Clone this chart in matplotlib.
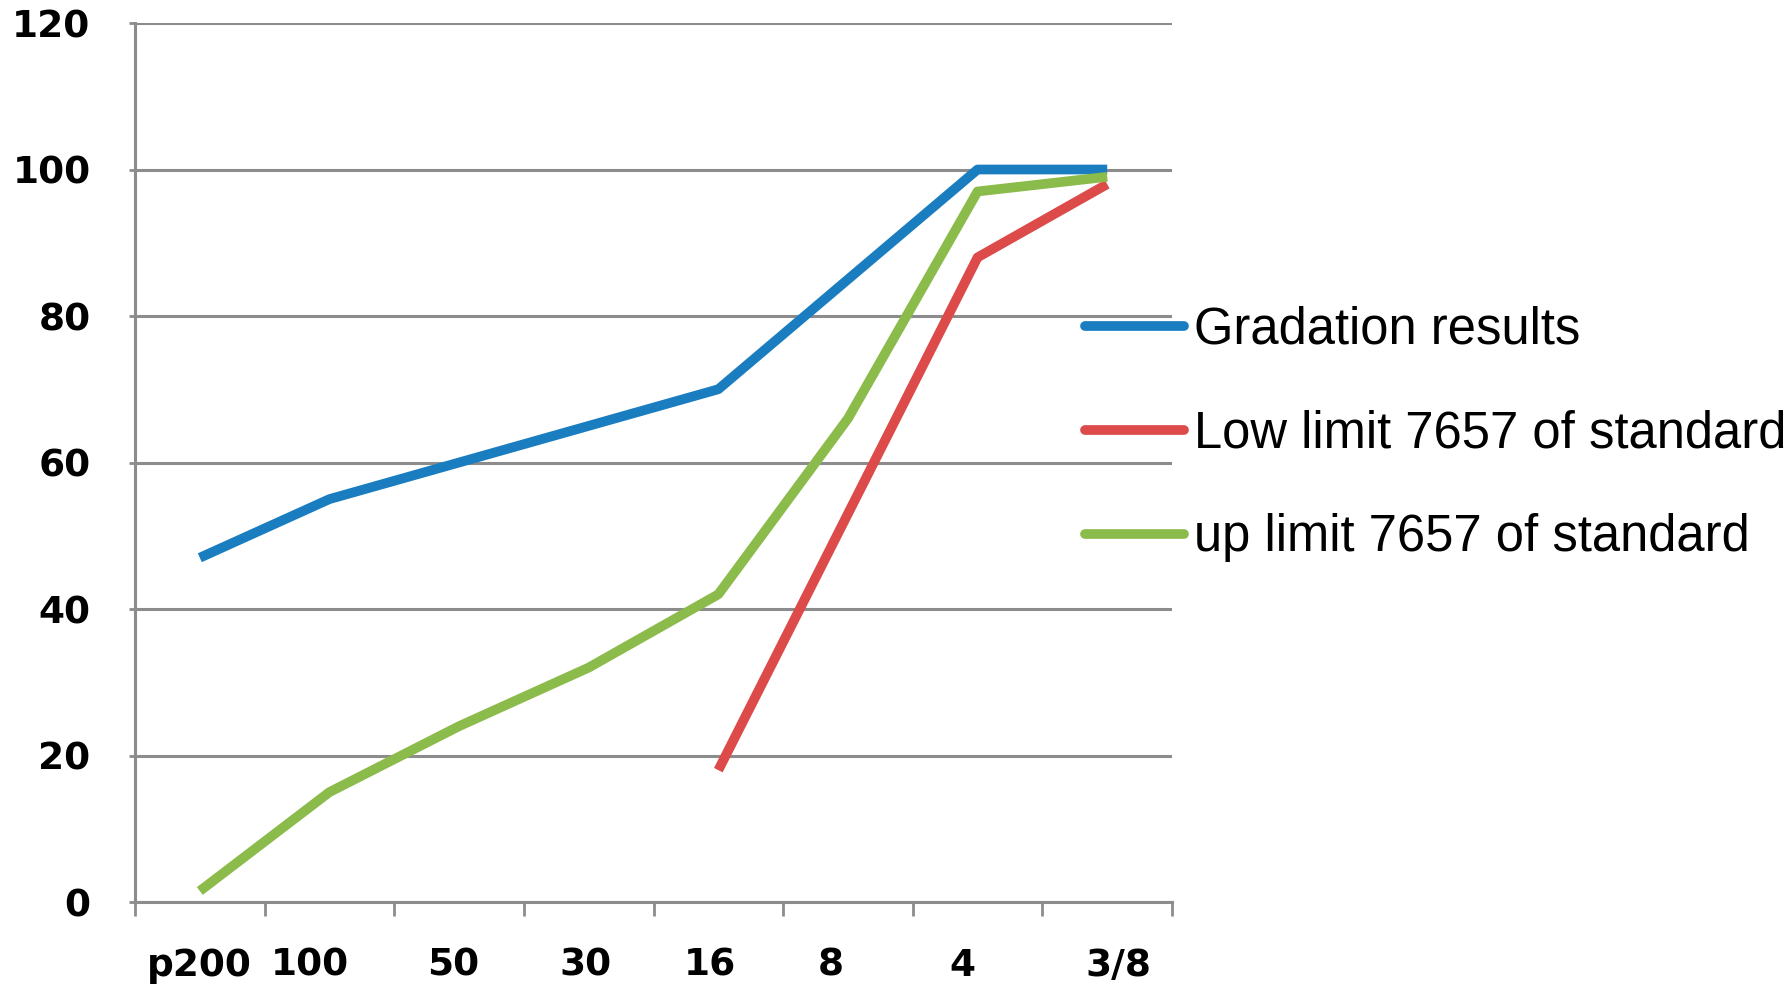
import matplotlib
matplotlib.use("Agg")
import matplotlib.pyplot as plt
import matplotlib.transforms as mtransforms
import numpy as np

categories = ["p200", "100", "50", "30", "16", "8", "4", "3/8"]
gradation = [47, 55, 60, 65, 70, 85, 100, 100]
low_limit = [np.nan, np.nan, np.nan, np.nan, 18, 53, 88, 98]
up_limit = [1.5, 15, 24, 32, 42, 66, 97, 99]
labels = ["Gradation results", "Low limit 7657 of standard", "up limit 7657 of standard"]
colors = ["#1a7dc0", "#dc4b4a", "#8bbb4a"]
yticks = [0, 20, 40, 60, 80, 100, 120]

# small horizontal nudges (in points) of the category labels, as in the original
label_nudge_pt = [0, -14, -4, -2, -6, -12, -11, 8]

fig = plt.figure(figsize=(17.91, 9.97), dpi=100)
ax = fig.add_axes([135/1791, 1-902/997, (1172-135)/1791, (902-23)/997])

x = np.arange(len(categories))
for series, lab, col in zip([gradation, low_limit, up_limit], labels, colors):
    ax.plot(x, series, color=col, lw=7, label=lab,
            solid_joinstyle="round", solid_capstyle="butt")

ax.set_xlim(-0.5, len(categories) - 0.5)
ax.set_ylim(0, 120)
ax.set_yticks(yticks)
ax.set_yticklabels([str(v) for v in yticks])
ax.yaxis.grid(True, color="#8c8c8c", lw=2.2)
ax.set_axisbelow(True)

ax.set_xticks(np.arange(len(categories) + 1) - 0.5)
ax.set_xticklabels([])
ax.set_xticks(x, minor=True)
ax.set_xticklabels(categories, minor=True)
ax.tick_params(axis="x", which="major", length=10, width=2, color="#8c8c8c", direction="out")
ax.tick_params(axis="x", which="minor", length=0, pad=33, labelsize=27)
ax.tick_params(axis="y", length=4, width=2, color="#8c8c8c", pad=28, labelsize=27)
for lbl in ax.get_xticklabels(minor=True) + ax.get_yticklabels():
    lbl.set_fontweight("bold")
    lbl.set_family("DejaVu Sans")
for lbl, dx in zip(ax.get_xticklabels(minor=True), label_nudge_pt):
    lbl.set_transform(lbl.get_transform() +
                      mtransforms.ScaledTranslation(dx/72, 0, fig.dpi_scale_trans))

for s in ["top", "right"]:
    ax.spines[s].set_visible(False)
for s in ["left", "bottom"]:
    ax.spines[s].set_color("#8c8c8c")
    ax.spines[s].set_linewidth(2.2)

leg = fig.legend(loc="center left", bbox_to_anchor=(1085/1791, 1-434/997),
                 bbox_transform=fig.transFigure, frameon=False,
                 prop={"family": "Liberation Sans", "size": 36.5},
                 handlelength=1.95, handletextpad=0.2, labelspacing=1.08,
                 borderpad=0, borderaxespad=0)
for h in leg.get_lines():
    h.set_linewidth(7)
    h.set_solid_capstyle("round")

fig.savefig("out.png", dpi=100)
